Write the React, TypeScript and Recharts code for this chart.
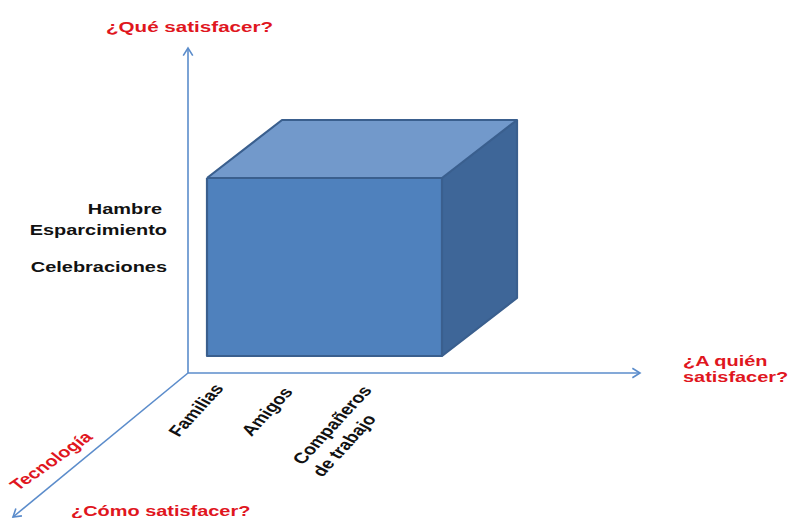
import React from 'react';
import { ComposedChart, XAxis, YAxis, Line, Area, Scatter } from 'recharts';

// ---- diagram data (data space = 792 x 518 canvas units) ----
const ORIGIN = { x: 188, y: 373 };
const AXIS_TIPS = [
  { x: 188, y: 48 },   // ¿Qué satisfacer?
  { x: 640, y: 373 },  // ¿A quién satisfacer?
  { x: 13, y: 517 },   // ¿Cómo satisfacer?
];

const CUBE_FRONT = { left: 207, right: 442, top: 178, bottom: 356 };
const CUBE_DEPTH = { dx: 75, dy: -58 };

const whatTitle = [{ x: 106, y: 32, text: '¿Qué satisfacer?' }];
const whoTitle = [
  { x: 683, y: 366, text: '¿A quién' },
  { x: 683, y: 382, text: 'satisfacer?' },
];
const howTitle = [{ x: 71, y: 516, text: '¿Cómo satisfacer?' }];
const techLabel = [{ x: 51, y: 461, text: 'Tecnología' }];

const needLabels = [
  { x: 162, y: 214, text: 'Hambre' },
  { x: 167, y: 234.5, text: 'Esparcimiento' },
  { x: 167, y: 272, text: 'Celebraciones' },
];

const whoLabels = [
  { x: 196, y: 410, text: 'Familias' },
  { x: 267, y: 411.5, text: 'Amigos' },
  { x: 332, y: 425, text: 'Compañeros' },
  { x: 344, y: 445.5, text: 'de trabajo' },
];

// ---- derived geometry ----
const axes = AXIS_TIPS.map((tip) => [ORIGIN, tip]);

const chevron = (a: { x: number; y: number }, b: { x: number; y: number }) => {
  const dx = b.x - a.x;
  const dy = b.y - a.y;
  const len = Math.hypot(dx, dy);
  const ux = dx / len;
  const uy = dy / len;
  const L = 9;
  const ang = (32 * Math.PI) / 180;
  const rot = (s: number) => ({
    x: b.x - L * (ux * Math.cos(s * ang) - uy * Math.sin(s * ang)),
    y: b.y - L * (ux * Math.sin(s * ang) + uy * Math.cos(s * ang)),
  });
  return [rot(1), { x: b.x, y: b.y }, rot(-1)];
};
const arrowHeads = AXIS_TIPS.map((tip) => chevron(ORIGIN, tip));

const f = CUBE_FRONT;
const d = CUBE_DEPTH;
const frontFace = [
  { x: f.left, y: [f.top, f.bottom] },
  { x: f.right, y: [f.top, f.bottom] },
];
const topFace = [
  { x: f.left, y: [f.top, f.top] },
  { x: f.left + d.dx, y: [f.top + d.dy, f.top] },
  { x: f.right, y: [f.top + d.dy, f.top] },
  { x: f.right + d.dx, y: [f.top + d.dy, f.top + d.dy] },
];
const sideFace = [
  { x: f.right, y: [f.top, f.bottom] },
  { x: f.right + d.dx, y: [f.top + d.dy, f.bottom + d.dy] },
];
const frontEdges = [
  { x: f.left, y: f.top },
  { x: f.right, y: f.top },
  { x: f.right, y: f.bottom },
  { x: f.left, y: f.bottom },
  { x: f.left, y: f.top },
];
const outerEdges = [
  { x: f.left, y: f.top },
  { x: f.left + d.dx, y: f.top + d.dy },
  { x: f.right + d.dx, y: f.top + d.dy },
  { x: f.right + d.dx, y: f.bottom + d.dy },
  { x: f.right, y: f.bottom },
];
const innerEdge = [
  { x: f.right, y: f.top },
  { x: f.right + d.dx, y: f.top + d.dy },
];

// ---- styles ----
const SX = 1.33;
const RED = '#E0161E';
const AXIS_BLUE = '#5B8CCB';
const EDGE = '#3A5F8E';
const FONT = '"Liberation Sans", Arial, sans-serif';

const makeText =
  (color: string, size: number, anchor: string, angle = 0, central = false) =>
  (props: any) => {
    const { cx, cy, payload } = props;
    if (cx == null || cy == null) return null;
    return (
      <text
        x={0}
        y={0}
        transform={`translate(${cx},${cy}) scale(${SX},1) rotate(${angle})`}
        textAnchor={anchor}
        dominantBaseline={central ? 'central' : 'alphabetic'}
        fill={color}
        fontFamily={FONT}
        fontWeight="bold"
        fontSize={size}
      >
        {payload.text}
      </text>
    );
  };

export default function App() {
  return (
    <div style={{ position: 'absolute', left: 0, top: 0, width: 792, height: 518, background: '#fff' }}>
      <ComposedChart width={792} height={518} margin={{ top: 0, right: 0, bottom: 0, left: 0 }}>
        <XAxis type="number" dataKey="x" domain={[0, 792]} hide allowDataOverflow />
        <YAxis type="number" dataKey="y" domain={[0, 518]} reversed hide allowDataOverflow />

        {axes.map((seg, i) => (
          <Line
            key={`axis-${i}`}
            data={seg}
            dataKey="y"
            type="linear"
            stroke={AXIS_BLUE}
            strokeWidth={1.6}
            dot={false}
            activeDot={false}
            isAnimationActive={false}
          />
        ))}
        {arrowHeads.map((seg, i) => (
          <Line
            key={`head-${i}`}
            data={seg}
            dataKey="y"
            type="linear"
            stroke={AXIS_BLUE}
            strokeWidth={1.6}
            dot={false}
            activeDot={false}
            isAnimationActive={false}
          />
        ))}

        <Area data={frontFace} dataKey="y" type="linear" fill="#4F81BD" fillOpacity={1} stroke="none" isAnimationActive={false} activeDot={false} />
        <Area data={topFace} dataKey="y" type="linear" fill="#7299CB" fillOpacity={1} stroke="none" isAnimationActive={false} activeDot={false} />
        <Area data={sideFace} dataKey="y" type="linear" fill="#3E6698" fillOpacity={1} stroke="none" isAnimationActive={false} activeDot={false} />

        {[frontEdges, outerEdges, innerEdge].map((seg, i) => (
          <Line
            key={`edge-${i}`}
            data={seg}
            dataKey="y"
            type="linear"
            stroke={EDGE}
            strokeWidth={2.2}
            strokeLinejoin="round"
            dot={false}
            activeDot={false}
            isAnimationActive={false}
          />
        ))}

        <Scatter data={whatTitle} shape={makeText(RED, 15.5, 'start')} isAnimationActive={false} />
        <Scatter data={whoTitle} shape={makeText(RED, 15, 'start')} isAnimationActive={false} />
        <Scatter data={howTitle} shape={makeText(RED, 15, 'start')} isAnimationActive={false} />
        <Scatter data={techLabel} shape={makeText(RED, 15, 'middle', -43, true)} isAnimationActive={false} />
        <Scatter data={needLabels} shape={makeText('#111', 15, 'end')} isAnimationActive={false} />
        <Scatter data={whoLabels} shape={makeText('#111', 15, 'middle', -55, true)} isAnimationActive={false} />
      </ComposedChart>
    </div>
  );
}
